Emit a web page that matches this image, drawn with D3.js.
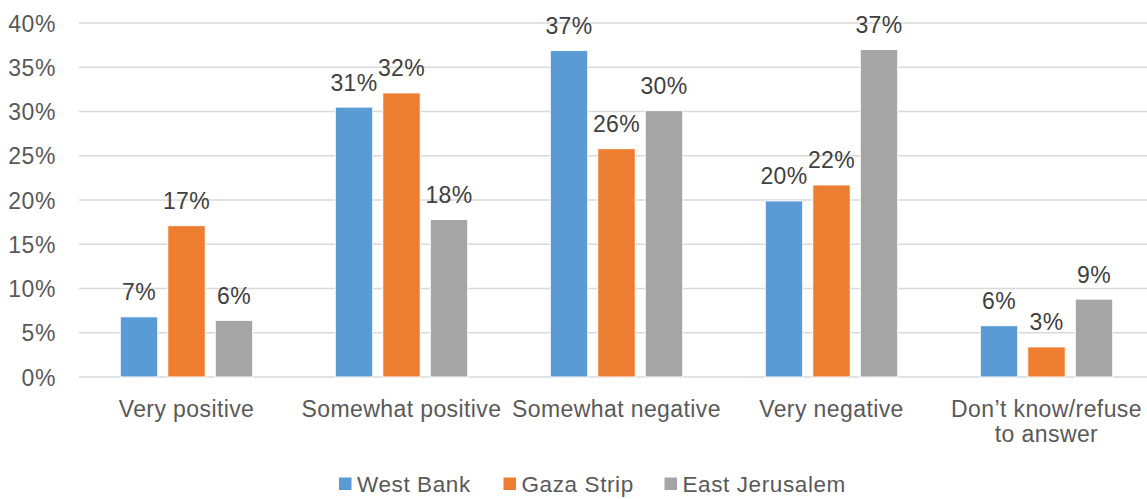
<!DOCTYPE html>
<html><head><meta charset="utf-8">
<script src="https://cdn.jsdelivr.net/npm/d3@7"></script>
<style>body{margin:0;background:#fff;}svg{display:block;font-family:"Liberation Sans",Arial,sans-serif;}</style>
</head><body><svg id="c" width="1147" height="499"></svg>
<script>
const categories = ["Very positive","Somewhat positive","Somewhat negative","Very negative","Don\u2019t know/refuse to answer"];
const series = ["West Bank","Gaza Strip","East Jerusalem"];
const westBank = [6.8, 30.5, 36.9, 19.9, 5.8];
const gazaStrip = [17.1, 32.1, 25.8, 21.7, 3.4];
const eastJerusalem = [6.4, 17.8, 30.1, 37.0, 8.8];
const labelsWB = ["7%","31%","37%","20%","6%"];
const labelsGS = ["17%","32%","26%","22%","3%"];
const labelsEJ = ["6%","18%","30%","37%","9%"];
const yTicks = [0,5,10,15,20,25,30,35,40];
const colors = ["#5B9BD5","#ED7D31","#A5A5A5"];

const values = [westBank, gazaStrip, eastJerusalem];
const labels = [labelsWB, labelsGS, labelsEJ];
const svg = d3.select("#c");
const pLeft = 79, pRight = 1154, pTop = 23, pBottom = 377;
const x = d3.scaleBand().domain(categories).range([pLeft, pRight]).paddingInner(0).paddingOuter(0);
const y = d3.scaleLinear().domain([0,40]).range([pBottom, pTop]);
const bw = 37.5, gap = 10;
const inner = d3.scaleBand().domain(series).range([0, 3*bw+2*gap]).paddingInner(gap/(bw+gap)).paddingOuter(0);
const groupOff = (x.bandwidth() - (3*bw+2*gap))/2;

svg.append("g").selectAll("line").data(yTicks).join("line")
  .attr("x1", pLeft).attr("x2", 1147).attr("y1", d=>y(d)).attr("y2", d=>y(d))
  .attr("stroke","#d9d9d9").attr("stroke-width",1.5);

svg.append("g").selectAll("text").data(yTicks).join("text")
  .attr("x", 56).attr("y", d=>y(d)+8.5).attr("text-anchor","end")
  .attr("fill","#595959").attr("font-size","23px").attr("letter-spacing","0.6px").text(d=>d+"%");

series.forEach((s,si)=>{
  const g = svg.append("g");
  g.selectAll("rect").data(categories).join("rect")
    .attr("x", c=>x(c)+groupOff+inner(s)).attr("width", inner.bandwidth())
    .attr("y", (c,i)=>y(values[si][i])).attr("height",(c,i)=>y(0)-y(values[si][i]))
    .attr("fill", colors[si]).attr("stroke","#fff").attr("stroke-width",1);
  g.selectAll("text").data(categories).join("text")
    .attr("x", c=>x(c)+groupOff+inner(s)+inner.bandwidth()/2)
    .attr("y", (c,i)=>y(values[si][i])-16.5)
    .attr("text-anchor","middle").attr("fill","#404040").attr("font-size","23px").attr("letter-spacing","0.3px")
    .text((c,i)=>labels[si][i]);
});

const cat = svg.append("g");
categories.forEach(c=>{
  const lines = c.startsWith("Don") ? ["Don\u2019t know/refuse","to answer"] : [c];
  const t = cat.append("text").attr("x", x(c)+x.bandwidth()/2).attr("y", 416.5)
    .attr("text-anchor","middle").attr("fill","#595959").attr("font-size","23px").attr("letter-spacing","0.4px");
  lines.forEach((l,i)=>t.append("tspan").attr("x", x(c)+x.bandwidth()/2).attr("dy", i?25:0).text(l));
});

const legX = [339, 503.5, 664.5];
const leg = svg.append("g");
series.forEach((s,i)=>{
  leg.append("rect").attr("x",legX[i]).attr("y",477.5).attr("width",12.5).attr("height",12.5).attr("fill",colors[i]);
  leg.append("text").attr("x",legX[i]+18).attr("y",492).attr("fill","#595959").attr("font-size","22.5px").attr("letter-spacing","0.6px").text(s);
});
</script></body></html>
